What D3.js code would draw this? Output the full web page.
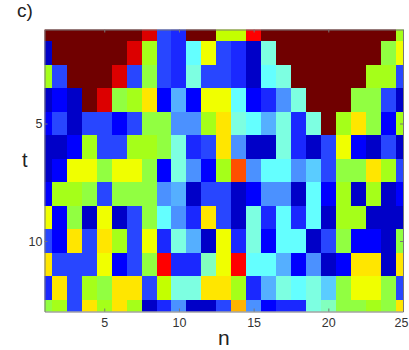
<!DOCTYPE html>
<html lang="en">
<head>
    <meta charset="utf-8">
    <script src="https://d3js.org/d3.v7.min.js"></script>
    <style type="text/css">
        body {
            margin: 0;
            background: white;
            overflow: hidden;
        }
        text {
            font-family: "Liberation Sans", sans-serif;
            fill: #222;
        }
        .tick text {
            font-size: 12.5px;
            fill: #333;
        }
    </style>
</head>
<body>
<svg id="chart"></svg>
<script type="text/javascript">
    var width = 409;
    var height = 350;

    // axis values and ticks
    var nValues = d3.range(1, 26);
    var tValues = d3.range(1, 14);
    var nTicks = [5, 10, 15, 20, 25];
    var tTicks = [5, 10];

    // colour levels (0 = darkest blue, 19 = darkest red)
    var row1 = [19, 19, 19, 19, 19, 19, 19, 18, 3, 2, 19, 19, 12, 12, 17, 19, 19, 19, 19, 19, 19, 19, 19, 19, 11];
    var row2 = [0, 19, 19, 19, 19, 19, 18, 11, 3, 2, 7, 13, 3, 2, 0, 8, 19, 19, 19, 19, 19, 19, 19, 10, 13];
    var row3 = [11, 3, 19, 19, 19, 18, 3, 10, 3, 2, 8, 3, 3, 2, 0, 7, 8, 19, 19, 19, 19, 19, 11, 11, 3];
    var row4 = [0, 1, 0, 19, 18, 10, 11, 14, 1, 5, 1, 13, 13, 7, 1, 2, 4, 8, 19, 19, 19, 10, 10, 3, 0];
    var row5 = [1, 3, 0, 3, 3, 1, 3, 10, 10, 4, 4, 11, 14, 8, 7, 5, 8, 2, 8, 19, 11, 14, 10, 1, 11];
    var row6 = [0, 0, 1, 11, 3, 3, 11, 11, 10, 8, 2, 3, 14, 4, 0, 0, 8, 2, 0, 3, 13, 1, 0, 3, 0];
    var row7 = [0, 1, 13, 13, 10, 13, 13, 10, 1, 8, 4, 1, 11, 16, 4, 7, 7, 4, 6, 3, 10, 10, 14, 11, 3];
    var row8 = [1, 11, 11, 10, 3, 10, 10, 10, 4, 5, 0, 3, 3, 0, 1, 4, 4, 0, 7, 1, 11, 0, 11, 0, 1];
    var row9 = [13, 1, 10, 0, 13, 0, 3, 10, 7, 4, 2, 14, 3, 0, 8, 2, 7, 2, 7, 0, 11, 11, 0, 0, 0];
    var row10 = [3, 1, 14, 3, 14, 11, 3, 13, 2, 8, 5, 0, 13, 2, 8, 1, 7, 7, 0, 3, 10, 1, 1, 0, 10];
    var row11 = [14, 3, 3, 3, 13, 1, 3, 10, 17, 2, 2, 9, 13, 17, 7, 7, 5, 1, 4, 0, 1, 14, 14, 0, 14];
    var row12 = [2, 14, 3, 11, 10, 14, 14, 3, 12, 8, 8, 14, 14, 11, 2, 5, 8, 7, 8, 6, 10, 13, 13, 10, 3];
    var row13 = [10, 11, 3, 14, 11, 14, 11, 0, 2, 4, 0, 0, 3, 15, 4, 1, 2, 2, 8, 9, 10, 10, 11, 10, 14];
    var rows = [row1, row2, row3, row4, row5, row6, row7, row8, row9, row10, row11, row12, row13];

    var palette = ["#0000c8", "#0000ff", "#1a28ff", "#2846ff", "#4b91ff", "#55afff", "#5accff",
        "#64ffff", "#7dffe1", "#82ffbe", "#91ff41", "#a5ff19", "#c3ff00", "#f0ff00", "#ffe600",
        "#ffb400", "#ff5000", "#ff0000", "#dc0000", "#700000"];

    var x = d3.scaleLinear().domain([1, 25]).range([44.5, 403]);
    var y = d3.scaleLinear().domain([1, 13]).range([29.5, 311.5]);
    var color = d3.scaleOrdinal().domain(d3.range(palette.length)).range(palette);

    var svg = d3.select("#chart")
        .attr("width", width)
        .attr("height", height);

    svg.append("clipPath")
        .attr("id", "plot-clip")
        .append("rect")
        .attr("x", x(1))
        .attr("y", y(1))
        .attr("width", x(25) - x(1))
        .attr("height", y(13) - y(1));

    var cells = [];
    tValues.forEach(function (t, i) {
        nValues.forEach(function (n, j) {
            cells.push({n: n, t: t, value: rows[i][j]});
        });
    });

    svg.append("g")
        .attr("clip-path", "url(#plot-clip)")
        .selectAll("rect")
        .data(cells)
        .join("rect")
        .attr("x", function (d) { return x(d.n - 0.5); })
        .attr("y", function (d) { return y(d.t - 0.5); })
        .attr("width", x(2) - x(1))
        .attr("height", y(2) - y(1))
        .attr("shape-rendering", "crispEdges")
        .style("fill", function (d) { return color(d.value); });

    // box with small inward ticks on all four sides
    var noLabel = function () { return ""; };
    var axisB = d3.axisBottom(x).tickValues(nTicks).tickSizeInner(-3).tickSizeOuter(0).tickPadding(6.5);
    var axisT = d3.axisTop(x).tickValues(nTicks).tickSizeInner(-3).tickSizeOuter(0).tickFormat(noLabel);
    var axisL = d3.axisLeft(y).tickValues(tTicks).tickSizeInner(-3).tickSizeOuter(0).tickPadding(2);
    var axisR = d3.axisRight(y).tickValues(tTicks).tickSizeInner(-3).tickSizeOuter(0).tickFormat(noLabel);

    var bottomAxis = svg.append("g").attr("transform", "translate(0," + y(13) + ")").call(axisB);
    svg.append("g").attr("transform", "translate(0," + y(1) + ")").call(axisT);
    svg.append("g").attr("transform", "translate(" + x(1) + ",0)").call(axisL);
    svg.append("g").attr("transform", "translate(" + x(25) + ",0)").call(axisR);

    // the last label would run off the page edge
    bottomAxis.selectAll(".tick text")
        .filter(function (d) { return d === 25; })
        .attr("dx", -2);

    svg.selectAll(".domain, .tick line").style("stroke", "#777");

    svg.append("text").attr("x", 17).attr("y", 17).style("font-size", "19px").text("c)");
    svg.append("text").attr("x", 22).attr("y", 167).style("font-size", "20px").text("t");
    svg.append("text").attr("x", 218).attr("y", 345).style("font-size", "21px").text("n");
</script>
</body>
</html>
